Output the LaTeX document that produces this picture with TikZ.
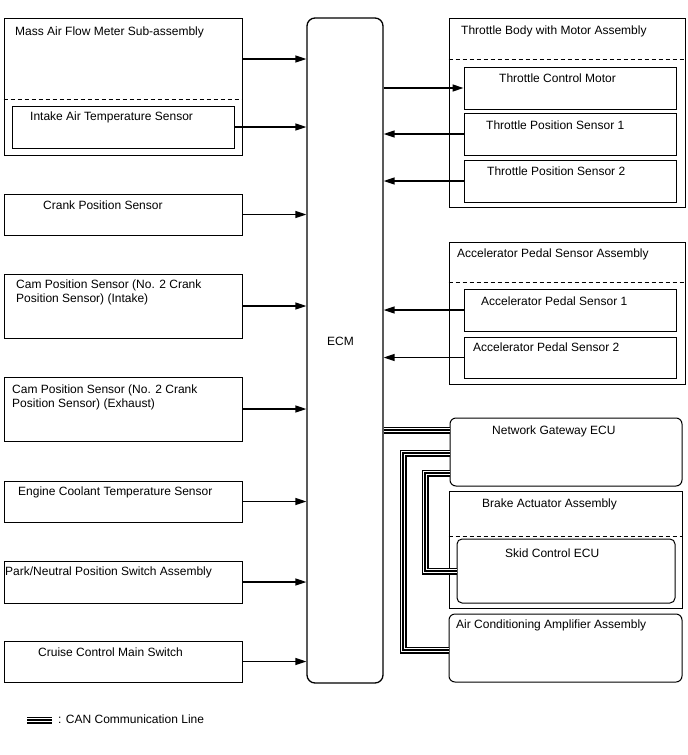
\documentclass[tikz,border=0pt]{standalone}
\usepackage{fontspec}
\setmainfont{Liberation Sans}
\usetikzlibrary{arrows.meta,fit}
\begin{document}
\begin{tikzpicture}[x=1pt,y=-1pt,
  bx/.style={draw, line width=1pt, rectangle, inner sep=0pt},
  rbx/.style={bx, rounded corners=6pt},
  lbl/.style={anchor=base west, inner sep=0pt, font=\fontsize{12}{14}\selectfont},
  arr/.style={line width=1.4pt, -{Triangle[length=11pt,width=7pt]}},
  dsh/.style={line width=1pt, dash pattern=on 4pt off 3pt},
  can/.style={line width=7pt, draw=black,
    postaction={draw=white, line width=4.2pt},
    postaction={draw=black, line width=1.4pt}}]
\useasboundingbox (0,0) rectangle (688,755);

% ECM
\node[bx, rounded corners=8pt, line width=1.3pt, fit={(307,18) (383,683)}] (ecm) {};
\node[lbl] (tecm) at (327,345) {ECM};

% left boxes
\node[bx, fit={(4,18) (242,155)}] (maf) {};
\node[bx, fit={(12,106) (234,148)}] (iat) {};
\node[bx, fit={(4,194) (242,235)}] (crank) {};
\node[bx, fit={(4,274) (242,338)}] (camin) {};
\node[bx, fit={(4,377) (242,441)}] (camex) {};
\node[bx, fit={(4,481) (242,522)}] (ect) {};
\node[bx, fit={(4,561) (242,603)}] (pnp) {};
\node[bx, fit={(4,641) (242,682)}] (ccs) {};

\node[lbl] (tmaf) at (15,35) {Mass Air Flow Meter Sub-assembly};
\node[lbl] (tiat) at (30,120.5) {Intake Air Temperature Sensor};
\node[lbl] (tcrank) at (43,209.5) {Crank Position Sensor};
\node[lbl] (tcamin1) at (16,288.3) {Cam Position Sensor (No. 2 Crank};
\node[lbl] (tcamin2) at (16,302.3) {Position Sensor) (Intake)};
\node[lbl] (tcamex1) at (12,393.3) {Cam Position Sensor (No. 2 Crank};
\node[lbl] (tcamex2) at (12,407.3) {Position Sensor) (Exhaust)};
\node[lbl] (tect) at (18,495) {Engine Coolant Temperature Sensor};
\node[lbl] (tpnp) at (5,575.3) {Park/Neutral Position Switch Assembly};
\node[lbl] (tccs) at (38,656.3) {Cruise Control Main Switch};

\draw[dsh] (maf.west |- 0,99) -- (maf.east |- 0,99);

% right boxes
\node[bx, fit={(449,18) (685,207)}] (tb) {};
\node[bx, fit={(464,67) (676,109)}] (tcm) {};
\node[bx, fit={(464,113) (676,155)}] (tps1) {};
\node[bx, fit={(464,160) (676,202)}] (tps2) {};
\node[bx, fit={(449,242) (685,384)}] (aps) {};
\node[bx, fit={(464,289) (676,331)}] (aps1) {};
\node[bx, fit={(464,337) (676,378)}] (aps2) {};
\node[rbx, fit={(450,418) (682,486)}] (gw) {};
\node[bx, fit={(449,491) (682,608)}] (brk) {};
\node[rbx, rounded corners=5pt, fit={(457,539) (675,603)}] (skid) {};
\node[rbx, fit={(449,614) (682,682)}] (ac) {};

\draw[dsh] (tb.west |- 0,59) -- (tb.east |- 0,59);
\draw[dsh] (aps.west |- 0,282) -- (aps.east |- 0,282);
\draw[dsh] (brk.west |- 0,536) -- (brk.east |- 0,536);

\node[lbl] (ttb) at (461,34.3) {Throttle Body with Motor Assembly};
\node[lbl] (ttcm) at (499,82.3) {Throttle Control Motor};
\node[lbl] (ttps1) at (486,129.7) {Throttle Position Sensor 1};
\node[lbl] (ttps2) at (487,175.7) {Throttle Position Sensor 2};
\node[lbl] (taps) at (457,257.3) {Accelerator Pedal Sensor Assembly};
\node[lbl] (taps1) at (481,305.7) {Accelerator Pedal Sensor 1};
\node[lbl] (taps2) at (473,351.7) {Accelerator Pedal Sensor 2};
\node[lbl] (tgw) at (492,434) {Network Gateway ECU};
\node[lbl] (tbrk) at (482,507.3) {Brake Actuator Assembly};
\node[lbl] (tskid) at (505,557.3) {Skid Control ECU};
\node[lbl] (tac) at (456,628.3) {Air Conditioning Amplifier Assembly};

% input arrows
\draw[arr] (maf.east |- 0,59) -- (ecm.west |- 0,59);
\draw[arr] (iat.east) -- (ecm.west |- iat.east);
\draw[arr] (crank.east) -- (ecm.west |- crank.east);
\draw[arr] (camin.east) -- (ecm.west |- camin.east);
\draw[arr] (camex.east) -- (ecm.west |- camex.east);
\draw[arr] (ect.east) -- (ecm.west |- ect.east);
\draw[arr] (pnp.east) -- (ecm.west |- pnp.east);
\draw[arr] (ccs.east) -- (ecm.west |- ccs.east);

\draw[arr] (ecm.east |- tcm.west) -- (tcm.west);
\draw[arr] (tps1.west) -- (ecm.east |- tps1.west);
\draw[arr] (tps2.west) -- (ecm.east |- tps2.west);
\draw[arr] (aps1.west) -- (ecm.east |- aps1.west);
\draw[arr] (aps2.west) -- (ecm.east |- aps2.west);

% CAN lines
\draw[can] (ecm.east |- 0,430) -- (gw.west |- 0,430);
\draw[can] (gw.west |- 0,453) -- (403,453) -- (403,650) -- (ac.west |- 0,650);
\draw[can] (gw.west |- 0,473) -- (425,473) -- (425,571) -- (skid.west |- 0,571);

% legend
\coordinate (lg1) at (27,720);
\coordinate (lg2) at (52,720);
\draw[can] (lg1) -- (lg2);
\node[lbl] (tlg) at (58,723.5) {: CAN Communication Line};
\end{tikzpicture}
\end{document}
